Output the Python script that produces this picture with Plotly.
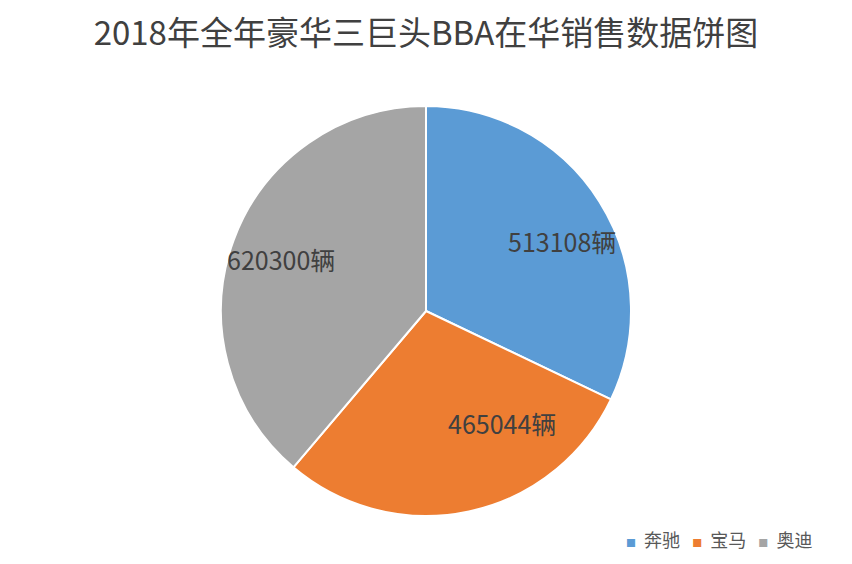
import math
import plotly.graph_objects as go

brands = ["奔驰", "宝马", "奥迪"]
sales = [513108, 465044, 620300]
colors = ["#5B9BD5", "#ED7D31", "#A5A5A5"]

W, H = 852, 564
# pie geometry in figure pixels (page body adds an 8px offset)
cx, cy, R = 418, 303, 205

fig = go.Figure(
    go.Pie(
        labels=brands,
        values=sales,
        textinfo="none",
        sort=False,
        direction="clockwise",
        rotation=0,
        marker=dict(colors=colors, line=dict(color="white", width=2)),
        domain=dict(x=[(cx - R) / W, (cx + R) / W], y=[1 - (cy + R) / H, 1 - (cy - R) / H]),
        hoverinfo="label+value+percent",
        showlegend=False,
    )
)

# data labels: inner corner of the label box sits on the slice bisector
total = sum(sales)
cum = 0
for v in sales:
    mid = (cum + v / 2) / total * 2 * math.pi
    cum += v
    r = 0.46 * R
    sx, sy = math.sin(mid), math.cos(mid)
    fig.add_annotation(
        x=(cx + r * sx) / W,
        y=1 - (cy - r * sy) / H,
        xref="paper",
        yref="paper",
        xanchor="left" if sx > 0 else "right",
        yanchor="bottom" if sy > 0 else "top",
        text=f"{v}辆",
        showarrow=False,
        font=dict(size=25, color="#404040"),
    )

# compact legend, Excel style: small square + name
legend_text = "&nbsp;&nbsp;&nbsp;".join(
    f"<span style='color:{c};font-size:10px'>■</span>&nbsp;&nbsp;{b}" for b, c in zip(brands, colors)
)
fig.add_annotation(
    x=806 / W,
    y=1 - 531 / H,
    xref="paper",
    yref="paper",
    xanchor="right",
    yanchor="middle",
    text=legend_text,
    showarrow=False,
    font=dict(size=18, color="#595959"),
)

fig.update_layout(
    width=W,
    height=H,
    margin=dict(l=0, r=0, t=0, b=0),
    paper_bgcolor="white",
    font=dict(family="Noto Sans CJK SC", color="#404040"),
    title=dict(
        text="2018年全年豪华三巨头BBA在华销售数据饼图",
        x=cx / W,
        xanchor="center",
        y=1 - 25 / H,
        yanchor="middle",
        font=dict(size=33, color="#404040"),
    ),
)

fig.write_html("out.html")
